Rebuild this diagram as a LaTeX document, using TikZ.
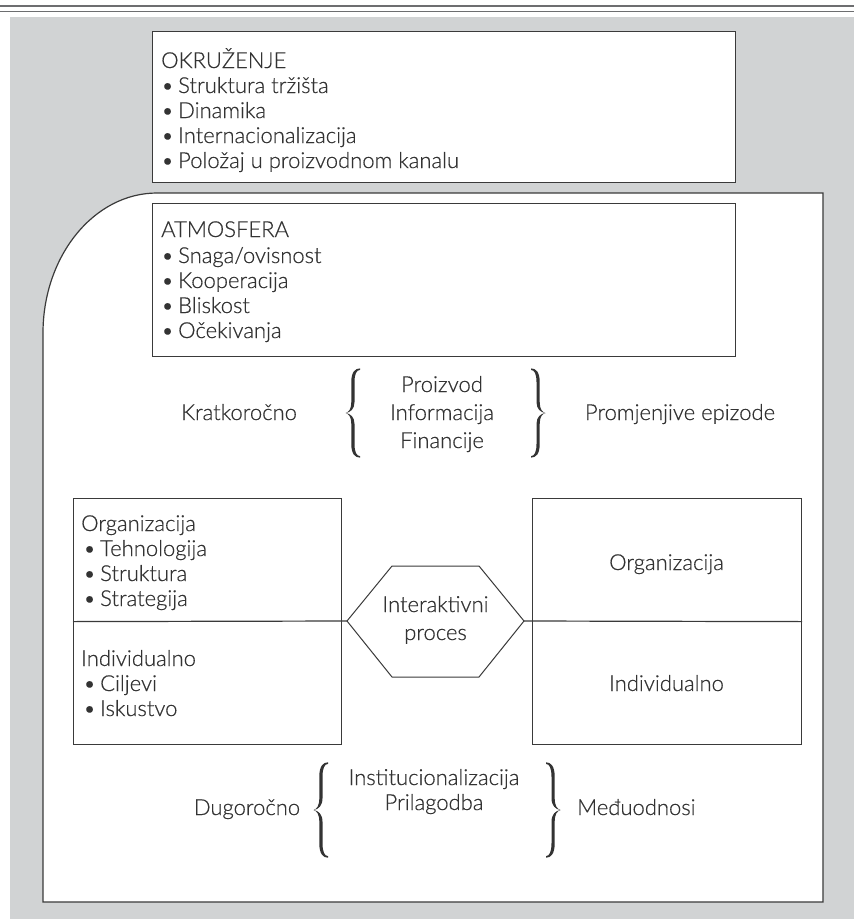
\documentclass[tikz,border=0pt]{standalone}
\usepackage{fontspec}
\IfFontExistsTF{Lato Light}{\setmainfont{Lato Light}[UprightFeatures={FakeBold=0.5}]}{\setmainfont{Lato}}
\definecolor{bg}{HTML}{D1D3D4}
\definecolor{ln}{HTML}{3A3A3A}
\definecolor{tx}{HTML}{333333}
\definecolor{rl}{HTML}{6D6E70}
\newcommand\blt{\makebox[17pt][l]{•}}
\begin{document}
\begin{tikzpicture}[x=1pt,y=-1pt,
  txt/.style={anchor=base west, inner sep=0pt, text=tx, font=\fontsize{22}{25}\selectfont},
  ctxt/.style={anchor=base, inner sep=0pt, text=tx, font=\fontsize{22}{25}\selectfont},
  boxnode/.style={draw=ln, line width=1.2pt, fill=white, anchor=north west, inner sep=0pt},
  conn/.style={draw=ln, line width=1.2pt},
  pics/curly/.style={code={
    \fill[tx] (7,-44.6) .. controls (2,-44.6) and (-1.7,-41) .. (-1.7,-31) -- (-1.7,-11)
      .. controls (-1.7,-4) and (-4,-1) .. (-7.5,0)
      .. controls (-4,1) and (-1.7,4) .. (-1.7,11) -- (-1.7,31)
      .. controls (-1.7,41) and (2,44.6) .. (7,44.6)
      -- (7,43.1) .. controls (3.5,43) and (1.5,39) .. (1.5,31) -- (1.5,11)
      .. controls (1.5,4) and (-2.5,0.6) .. (-7.5,0)
      .. controls (-2.5,-0.6) and (1.5,-4) .. (1.5,-11) -- (1.5,-31)
      .. controls (1.5,-39) and (3.5,-43) .. (7,-43.1) -- cycle;
  }}]
\useasboundingbox (0,0) rectangle (854,919);
% top rules and background
\draw[rl, line width=2pt] (0,6) -- (854,6);
\draw[rl, line width=1pt] (0,11) -- (854,11);
\fill[bg] (10,17) rectangle (854,919);
% outer frame with rounded top-left corner
\draw[conn, fill=white] (157,193) -- (823,193) -- (823,902) -- (43,902) -- (43,333)
  .. controls (43,256) and (94,193) .. (157,193) -- cycle;
% OKRUZENJE box
\node[boxnode, minimum width=583pt, minimum height=151pt] (okr) at (152,31) {};
\node[txt] (okrH) at (161,68) {OKRUŽENJE};
\node[txt] (okr1) at (161,93) {\blt Struktura tržišta};
\node[txt] (okr2) at (161,118) {\blt Dinamika};
\node[txt] (okr3) at (161,143) {\blt Internacionalizacija};
\node[txt] (okr4) at (161,168) {\blt Položaj u proizvodnom kanalu};
% ATMOSFERA box
\node[boxnode, minimum width=583pt, minimum height=153pt] (atm) at (152,203) {};
\node[txt] (atmH) at (161,237) {ATMOSFERA};
\node[txt] (atm1) at (161,263) {\blt Snaga/ovisnost};
\node[txt] (atm2) at (161,288) {\blt Kooperacija};
\node[txt] (atm3) at (161,313) {\blt Bliskost};
\node[txt] (atm4) at (161,338) {\blt Očekivanja};
% short term row
\node[ctxt] (kratko) at (239,420) {Kratkoročno};
\pic at (353,413) {curly};
\node[ctxt] (proiz) at (442,392) {Proizvod};
\node[ctxt] (info) at (442,420) {Informacija};
\node[ctxt] (fin) at (442,448) {Financije};
\pic[xscale=-1] at (538,413) {curly};
\node[ctxt] (promj) at (680,420) {Promjenjive epizode};
% left and right boxes
\node[boxnode, minimum width=268pt, minimum height=246pt] (lbox) at (73,498) {};
\node[boxnode, minimum width=269pt, minimum height=246pt] (rbox) at (532,498) {};
\coordinate (hexW) at (347,621);
\coordinate (hexE) at (524,621);
\draw[conn] (lbox.west) -- (hexW);
\draw[conn] (hexE) -- (rbox.east);
\draw[draw=ln, line width=1pt, fill=white] (hexW) -- (392,566) -- (479,566) -- (hexE) -- (479,677) -- (392,677) -- cycle;
\node[ctxt] (hex1) at (435.5,612) {Interaktivni};
\node[ctxt] (hex2) at (435.5,640) {proces};
\node[txt] (lorg) at (81,531) {Organizacija};
\node[txt] (lorg1) at (83,556) {\blt Tehnologija};
\node[txt] (lorg2) at (83,581) {\blt Struktura};
\node[txt] (lorg3) at (83,606) {\blt Strategija};
\node[txt] (lind) at (81,666) {Individualno};
\node[txt] (lind1) at (83,691) {\blt Ciljevi};
\node[txt] (lind2) at (83,716) {\blt Iskustvo};
\node[ctxt] (rorg) at (666.5,570) {Organizacija};
\node[ctxt] (rind) at (666.5,691) {Individualno};
% long term row
\node[ctxt] (dugo) at (247,815) {Dugoročno};
\pic[yscale=1.07] at (321,810) {curly};
\node[ctxt] (inst) at (434,785) {Institucionalizacija};
\node[ctxt] (pril) at (434,810) {Prilagodba};
\pic[xscale=-1, yscale=1.07] at (553,810) {curly};
\node[txt] (medju) at (577,815) {Međuodnosi};
\end{tikzpicture}
\end{document}
